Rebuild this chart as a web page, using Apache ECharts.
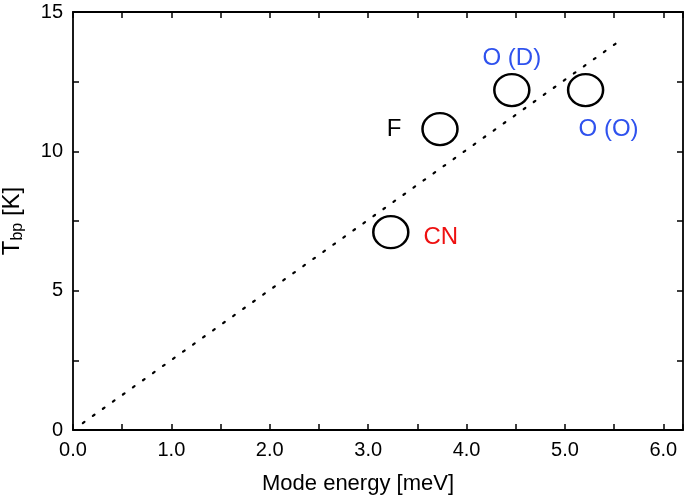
<!DOCTYPE html>
<html><head><meta charset="utf-8">
<script src="https://cdn.jsdelivr.net/npm/echarts@6/dist/echarts.min.js"></script>
<style>html,body{margin:0;padding:0;background:#fff}#c{width:685px;height:496px}</style>
</head><body><div id="c"></div>
<script>
// Data
const pointNames = ['CN', 'F', 'O (D)', 'O (O)'];
const modeEnergy = [3.23, 3.73, 4.46, 5.21];
const tbp = [7.1, 10.8, 12.2, 12.2];
const labelColors = ['#ee1111', '#000000', '#2f52ee', '#2f52ee'];
const labelOffsets = [[50, 5], [-46, 0], [0, -32], [23, 39]];
const fitX = [0.1, 5.55];
const fitY = [0.25, 13.95];
const xTicks = ['0.0', '1.0', '2.0', '3.0', '4.0', '5.0', '6.0'];
const yTicks = ['0', '5', '10', '15'];

const font = '"Liberation Sans", Arial, sans-serif';
const chart = echarts.init(document.getElementById('c'), null, {renderer: 'canvas'});

const commonAxisLine = {show: true, onZero: false, lineStyle: {color: '#000', width: 1.8}};
const tickStyle = {color: '#000', width: 1.5};
const xBase = {
  type: 'value', min: 0, max: 6.2, interval: 1,
  axisLine: commonAxisLine,
  axisTick: {show: true, inside: true, length: 6, lineStyle: tickStyle},
  minorTick: {show: true, splitNumber: 2, length: 6, lineStyle: tickStyle},
  splitLine: {show: false}, minorSplitLine: {show: false}
};
const yBase = {
  type: 'value', min: 0, max: 15, interval: 5,
  axisLine: commonAxisLine,
  axisTick: {show: true, inside: true, length: 6, lineStyle: tickStyle},
  minorTick: {show: true, splitNumber: 2, length: 6, lineStyle: tickStyle},
  splitLine: {show: false}, minorSplitLine: {show: false}
};

chart.setOption({
  animation: false,
  backgroundColor: '#fff',
  grid: {left: 73, right: 2, top: 12, bottom: 66, containLabel: false, outerBoundsMode: 'none'},
  xAxis: [
    Object.assign({}, xBase, {
      position: 'bottom',
      name: 'Mode energy [meV]', nameLocation: 'middle', nameGap: 43,
      nameTextStyle: {fontFamily: font, fontSize: 22, color: '#000', padding: [0, 40, 0, 0]},
      axisLabel: {show: true, fontFamily: font, fontSize: 20, color: '#000', margin: 10, showMaxLabel: false,
        formatter: v => { const i = Math.round(v); return (Math.abs(v - i) < 1e-6 && i < xTicks.length) ? xTicks[i] : ''; }}
    }),
    Object.assign({}, xBase, {position: 'top', axisLabel: {show: false}})
  ],
  yAxis: [
    Object.assign({}, yBase, {
      position: 'left',
      name: '{t|T}{s|bp}{t| [K]}', nameLocation: 'middle', nameGap: 47, nameRotate: 90,
      nameTextStyle: {fontFamily: font, color: '#000',
        rich: {t: {fontFamily: font, fontSize: 24, color: '#000'},
               s: {fontFamily: font, fontSize: 16, color: '#000', verticalAlign: 'bottom', padding: [12, 0, 0, 0]}}},
      axisLabel: {show: true, fontFamily: font, fontSize: 20, color: '#000', margin: 10,
        formatter: v => yTicks[Math.round(v / 5)] || ''}
    }),
    Object.assign({}, yBase, {position: 'right', axisLabel: {show: false}})
  ],
  series: [
    {
      type: 'line', xAxisIndex: 0, yAxisIndex: 0, showSymbol: false, symbol: 'none',
      data: fitX.map((x, i) => [x, fitY[i]]),
      lineStyle: {color: '#000', width: 2.2, type: [2, 10.3], cap: 'round'}
    },
    {
      type: 'scatter', xAxisIndex: 0, yAxisIndex: 0,
      symbol: 'circle', symbolSize: [35, 32],
      itemStyle: {color: 'rgba(0,0,0,0)', borderColor: '#000', borderWidth: 2.4, opacity: 1},
      data: modeEnergy.map((x, i) => ({
        value: [x, tbp[i]], name: pointNames[i],
        label: {show: true, position: 'inside', offset: labelOffsets[i], formatter: pointNames[i],
          color: labelColors[i], fontFamily: font, fontSize: 24, opacity: 1}
      }))
    }
  ]
});
</script></body></html>
